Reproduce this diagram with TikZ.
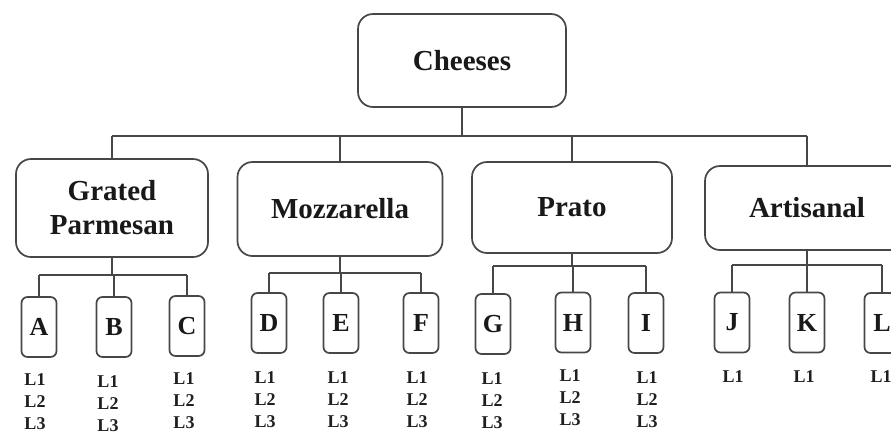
\documentclass[tikz,border=0pt]{standalone}
\usepackage{fontspec}
\setmainfont{Liberation Serif}
\begin{document}
\begin{tikzpicture}[x=1pt,y=-1pt,
  line width=1.7pt,
  edge/.style={draw=black!72},
  topbox/.style={draw=black!72, rounded corners=15pt, align=center, inner sep=0pt,
    font=\fontsize{29}{34}\selectfont\bfseries, text=black!90},
  leaf/.style={draw=black!72, rounded corners=6pt, inner sep=0pt,
    minimum width=35pt, minimum height=60pt,
    font=\fontsize{26}{30}\selectfont\bfseries, text=black!90},
  lvl/.style={align=center, inner sep=0pt, font=\fontsize{18}{22}\selectfont\bfseries, text=black!88}]
\useasboundingbox (0,0) rectangle (891,437);
\clip (0,0) rectangle (891,437);
\fill[white] (0,0) rectangle (891,437);

% root
\node[topbox, minimum width=208pt, minimum height=93pt] (root) at (462,60.5) {Cheeses};

% level 2
\node[topbox, minimum width=192pt, minimum height=98pt] (gp) at (112,208) {Grated\\Parmesan};
\node[topbox, minimum width=205pt, minimum height=94pt] (mz) at (340,209) {Mozzarella};
\node[topbox, minimum width=200pt, minimum height=91pt] (pr) at (572,207.5) {Prato};
\node[topbox, minimum width=204pt, minimum height=84pt] (ar) at (807,208) {Artisanal};

\coordinate (bar1) at (0,136);
\draw[edge] (root.south) -- (root.south |- bar1);
\draw[edge] (gp.north |- bar1) -- (ar.north |- bar1);
\foreach \n in {gp,mz,pr,ar} \draw[edge] (\n.north) -- (\n.north |- bar1);

% leaves
\node[leaf] (A) at (39,327) {A};
\node[leaf] (B) at (114,327) {B};
\node[leaf] (C) at (187,326) {C};
\node[leaf] (D) at (269,323) {D};
\node[leaf] (E) at (341,323) {E};
\node[leaf] (F) at (421,323) {F};
\node[leaf] (G) at (493,324) {G};
\node[leaf] (H) at (573,322.5) {H};
\node[leaf] (I) at (646,323) {I};
\node[leaf] (J) at (732,322.5) {J};
\node[leaf] (K) at (807,322.5) {K};
\node[leaf] (L) at (882,323) {L};

% level 3 bars
\coordinate (b2) at (0,275);
\coordinate (b3) at (0,273);
\coordinate (b4) at (0,266);
\coordinate (b5) at (0,265);
\draw[edge] (gp.south) -- (gp.south |- b2);
\draw[edge] (A.north |- b2) -- (C.north |- b2);
\foreach \n in {A,B,C} \draw[edge] (\n.north) -- (\n.north |- b2);
\draw[edge] (mz.south) -- (mz.south |- b3);
\draw[edge] (D.north |- b3) -- (F.north |- b3);
\foreach \n in {D,E,F} \draw[edge] (\n.north) -- (\n.north |- b3);
\draw[edge] (pr.south) -- (pr.south |- b4);
\draw[edge] (G.north |- b4) -- (I.north |- b4);
\foreach \n in {G,H,I} \draw[edge] (\n.north) -- (\n.north |- b4);
\draw[edge] (ar.south) -- (ar.south |- b5);
\draw[edge] (J.north |- b5) -- (L.north |- b5);
\foreach \n in {J,K,L} \draw[edge] (\n.north) -- (\n.north |- b5);

% labels
\node[lvl] (lA) at (35,402) {L1\\L2\\L3};
\node[lvl] (lB) at (108,404) {L1\\L2\\L3};
\node[lvl] (lC) at (184,401) {L1\\L2\\L3};
\node[lvl] (lD) at (265,400) {L1\\L2\\L3};
\node[lvl] (lE) at (338,400) {L1\\L2\\L3};
\node[lvl] (lF) at (417,400) {L1\\L2\\L3};
\node[lvl] (lG) at (492,400.5) {L1\\L2\\L3};
\node[lvl] (lH) at (570,398) {L1\\L2\\L3};
\node[lvl] (lI) at (647,400) {L1\\L2\\L3};
\node[lvl] (lJ) at (733,377) {L1};
\node[lvl] (lK) at (804,377) {L1};
\node[lvl] (lL) at (881,377) {L1};
\end{tikzpicture}
\end{document}
